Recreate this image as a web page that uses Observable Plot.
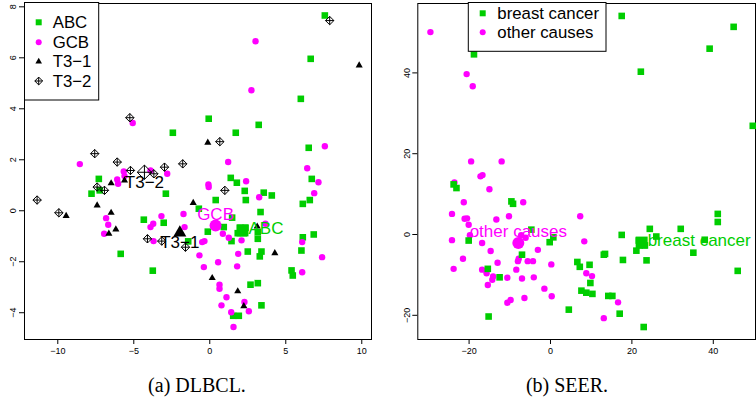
<!DOCTYPE html>
<html><head><meta charset="utf-8">
<script src="https://cdn.jsdelivr.net/npm/d3@7"></script>
<script src="https://cdn.jsdelivr.net/npm/@observablehq/plot@0.6"></script>
<style>
body{margin:0;background:#fff;}
#wrap{position:relative;width:756px;height:402px;overflow:hidden;font-family:"Liberation Sans",Arial,sans-serif;background:#fff;}
.panel{position:absolute;top:0;}
.cap{position:absolute;top:374px;font-family:"Liberation Serif","Times New Roman",serif;font-size:20px;line-height:22px;color:#000;transform:translateX(-50%);white-space:nowrap;}
#leg{position:absolute;left:0;top:0;pointer-events:none;}
</style></head><body><div id="wrap"></div>
<script>
// ---------- DATA ----------
const dlGroups = ["ABC", "GCB", "T3−1", "T3−2"];
const abcPts = [[-2.43,3.06],[-7.30,1.25],[-7.78,0.67],[-7.24,0.80],[-2.89,0.67],[-5.86,-1.69],[-3.75,-2.35],[-4.34,-0.35],[-3.03,-0.47],[-1.42,-1.20],[7.57,7.66],[6.64,5.96],[5.99,4.39],[-0.07,3.61],[3.22,3.37],[1.71,3.06],[6.51,2.47],[1.38,1.29],[1.78,1.10],[6.71,1.25],[2.30,0.78],[3.55,0.71],[4.08,0.60],[0.39,0.42],[2.37,0.42],[6.58,0.42],[6.12,0.27],[3.34,-0.05],[-0.72,0.08],[-0.13,-0.82],[0.92,-0.64],[1.47,-0.27],[1.43,-1.19],[2.02,-0.67],[2.35,-0.67],[1.84,-0.88],[2.24,-0.88],[3.16,-0.84],[3.16,-1.10],[2.50,-1.60],[3.40,-1.60],[3.29,-1.79],[6.12,-1.04],[6.03,-1.56],[6.84,-0.93],[5.38,-2.34],[5.46,-2.54],[2.68,-2.90],[3.16,-2.84],[3.40,-3.71],[1.54,-4.12],[1.91,-4.12]];
const gcbPts = [[-5.07,3.44],[-8.55,1.83],[-3.90,1.58],[-2.80,1.45],[-5.66,1.54],[-5.61,1.36],[-6.09,1.23],[-6.03,1.06],[-6.82,-0.29],[-6.68,-0.55],[-6.95,-0.90],[-3.72,-0.51],[-3.90,-0.64],[-3.18,-0.21],[-3.70,-1.19],[-1.73,-0.13],[-1.66,-0.64],[3.01,6.65],[2.74,4.73],[7.57,2.53],[1.21,1.91],[6.41,1.67],[2.39,1.16],[7.15,1.12],[-0.09,1.03],[-0.07,0.93],[3.25,0.53],[6.87,0.69],[-0.50,-1.23],[-0.35,-1.19],[0.86,-0.90],[1.25,-1.06],[2.09,-1.16],[3.66,-0.51],[6.08,-1.23],[7.39,-1.82],[-0.68,-1.75],[1.87,-1.69],[0.55,-2.02],[-0.39,-2.21],[1.80,-2.18],[6.08,-2.41],[0.64,-2.90],[0.64,-3.06],[1.10,-3.39],[0.77,-3.71],[2.28,-3.58],[2.57,-3.94],[1.41,-3.98],[1.56,-4.56]];
const t31Pts = [[-6.49,1.08],[-5.61,1.19],[-7.41,0.21],[-9.45,-0.20],[-6.49,-0.08],[-6.18,-0.73],[-6.64,-0.90],[-1.09,0.31],[-0.13,2.67],[9.83,5.70],[3.12,-0.62],[4.28,-1.66],[0.16,-2.64],[1.84,-3.16],[2.24,-3.74]];
const t32Pts = [[-5.26,3.65],[-7.57,2.24],[-6.09,1.91],[-1.78,1.84],[-2.98,1.71],[-5.22,1.58],[-3.68,1.45],[-7.41,0.93],[-6.93,0.80],[-11.36,0.42],[-9.93,-0.08],[-4.10,-1.10],[-3.16,-1.19],[-1.60,-1.43],[0.66,2.71],[0.99,0.80],[7.89,7.46]];
const dlCentroids = [[2.15,-0.77],[0.38,-0.58],[-1.97,-0.86],[-4.30,1.51]]; // ABC, GCB, T3-1, T3-2
const dlXTicks = [-10, -5, 0, 5, 10];
const dlYTicks = [-4, -2, 0, 2, 4, 6, 8];

const seerGroups = ["breast cancer", "other causes"];
const breastPts = [[-18.8,44.6],[-23.8,12.4],[-23.1,11.5],[17.5,54.1],[45.0,51.4],[39.1,46.0],[22.2,40.3],[49.7,26.9],[-9.6,8.2],[-9.2,7.6],[-20.1,-1.5],[-4.7,1.2],[-0.2,-1.9],[0.7,-0.7],[-7.0,-5.0],[-15.4,-8.5],[-12.5,-10.6],[-15.2,-20.3],[4.5,-18.6],[6.6,-6.8],[7.2,-8.0],[9.6,-7.5],[9.8,-12.0],[7.6,-13.9],[8.8,-14.4],[10.3,-14.7],[14.2,-15.2],[15.2,-15.2],[17.0,-19.6],[22.9,-22.9],[13.1,-5.0],[13.4,-4.8],[17.5,-0.1],[17.8,-6.3],[21.1,-4.0],[24.4,1.4],[26.0,-0.5],[23.6,-6.4],[32.0,1.4],[37.9,-1.3],[35.1,-4.5],[41.1,5.1],[41.1,3.1],[46.0,-9.0],[21.7,-1.5],[22.9,-1.5],[21.9,-2.7],[23.2,-2.7]];
const otherPts = [[-29.5,50.1],[-20.6,39.7],[-19.1,36.7],[-19.5,18.1],[-12.0,18.1],[-17.2,14.4],[-16.7,14.7],[-15.0,11.2],[-23.6,12.9],[-21.3,8.0],[-6.7,8.0],[-24.2,5.1],[-21.1,3.9],[-20.5,4.0],[-20.1,2.4],[-13.3,3.7],[-10.2,4.5],[-19.8,-0.2],[-24.2,-1.4],[-16.8,-2.1],[-14.7,-4.1],[-21.5,-6.0],[-23.8,-8.5],[-6.1,-0.8],[-7.2,-0.2],[-3.1,-3.8],[-13.0,-7.0],[-7.8,-6.0],[-8.0,-6.6],[-5.6,-6.6],[-4.3,-6.6],[0.2,-7.4],[-8.4,-8.7],[-16.8,-8.7],[-15.7,-9.6],[-14.1,-10.4],[-14.3,-11.2],[-10.6,-10.7],[-7.0,-10.9],[-4.1,-10.6],[-15.4,-12.5],[-1.5,-13.4],[0.3,-15.3],[-9.8,-16.2],[-10.6,-16.9],[-6.4,-15.7],[7.3,4.5],[8.3,-1.7],[8.8,-9.6],[10.2,-10.3],[16.6,-16.8],[13.1,-20.7]];
const seerCentroids = [[22.4,-2.0],[-7.9,-2.1]]; // breast cancer, other causes
const seerXTicks = [-20, 0, 20, 40];
const seerYTicks = [-20, 0, 20, 40];
const captions = ["(a) DLBCL.", "(b) SEER."];

// ---------- STYLE ----------
const GREEN = "#00CD00", MAG = "#FF00FF";
const FONT = "Liberation Sans, Arial, Helvetica, sans-serif";
const sq = {draw(c, s){const r=Math.sqrt(s/Math.PI); c.moveTo(-r,-r); c.lineTo(r,-r); c.lineTo(r,r); c.lineTo(-r,r); c.closePath();}};
const tri = {draw(c, s){const r=Math.sqrt(s/Math.PI), h=r*Math.sqrt(3)/2; c.moveTo(0,-r); c.lineTo(h,r/2); c.lineTo(-h,r/2); c.closePath();}};
const dplus = {draw(c, s){const r=Math.sqrt(s/Math.PI); c.moveTo(0,-r); c.lineTo(r,0); c.lineTo(0,r); c.lineTo(-r,0); c.closePath(); c.moveTo(0,-r); c.lineTo(0,r); c.moveTo(-r,0); c.lineTo(r,0);}};
const circ = {draw(c, s){const r=Math.sqrt(s/Math.PI); c.moveTo(r,0); c.arc(0,0,r,0,2*Math.PI);}};

const wrap = document.getElementById("wrap");
const fmt = d => String(d).replace("-", "\u2212");

function axesMarks(xt, yt) {
  return [
    Plot.frame({stroke: "black"}),
    Plot.axisX({ticks: xt, tickSize: 5, tickPadding: 3, label: null, fontSize: 9, tickFormat: fmt}),
    Plot.axisY({ticks: yt, tickSize: 5, tickFormat: () => "", label: null}),
    Plot.text(yt, {y: d => d, frameAnchor: "left", text: fmt, rotate: -90, dx: -11, textAnchor: "middle", lineAnchor: "middle", fontSize: 9})
  ];
}
const X = d => d[0], Y = d => d[1];

const left = Plot.plot({
  width: 380, height: 370,
  marginLeft: 24, marginRight: 9, marginTop: 3, marginBottom: 31,
  x: {domain: [-12.19, 10.64]}, y: {domain: [-5.05, 8.13]},
  style: {fontFamily: FONT, fontSize: "9px", background: "transparent", overflow: "visible", color: "black"},
  marks: [
    ...axesMarks(dlXTicks, dlYTicks),
    Plot.dot(abcPts, {x: X, y: Y, symbol: sq, r: 3.3, fill: GREEN, stroke: "none"}),
    Plot.dot(gcbPts, {x: X, y: Y, symbol: circ, r: 3.2, fill: MAG, stroke: "none"}),
    Plot.dot(t31Pts, {x: X, y: Y, symbol: tri, r: 4.1, fill: "black", stroke: "none"}),
    Plot.dot(t32Pts, {x: X, y: Y, symbol: dplus, r: 4.2, fill: "none", stroke: "black", strokeWidth: 1}),
    Plot.dot([dlCentroids[0]], {x: X, y: Y, symbol: sq, r: 6, fill: GREEN, stroke: "none"}),
    Plot.dot([dlCentroids[1]], {x: X, y: Y, symbol: circ, r: 6, fill: MAG, stroke: "none"}),
    Plot.dot([dlCentroids[2]], {x: X, y: Y, symbol: tri, r: 7.5, fill: "black", stroke: "none"}),
    Plot.dot([dlCentroids[3]], {x: X, y: Y, symbol: dplus, r: 7.2, fill: "none", stroke: "black", strokeWidth: 1}),
    Plot.text([dlCentroids[0]], {x: X, y: Y, text: [dlGroups[0]], fill: GREEN, fontSize: 17, textAnchor: "start", lineAnchor: "middle", dx: 6, dy: -2}),
    Plot.text([dlCentroids[1]], {x: X, y: Y, text: [dlGroups[1]], fill: MAG, fontSize: 17, textAnchor: "middle", lineAnchor: "middle", dy: -11}),
    Plot.text([dlCentroids[2]], {x: X, y: Y, text: [dlGroups[2]], fill: "black", fontSize: 17, textAnchor: "middle", lineAnchor: "middle", dy: 10}),
    Plot.text([dlCentroids[3]], {x: X, y: Y, text: [dlGroups[3]], fill: "black", fontSize: 17, textAnchor: "middle", lineAnchor: "middle", dy: 10})
  ]
});
left.classList.add("panel"); left.style.left = "0px";
wrap.appendChild(left);

const right = Plot.plot({
  width: 376, height: 370,
  marginLeft: 37.3, marginRight: 1, marginTop: 3, marginBottom: 31,
  x: {domain: [-32.6, 50.37]}, y: {domain: [-25.99, 57.18]},
  style: {fontFamily: FONT, fontSize: "9px", background: "transparent", overflow: "visible", color: "black"},
  marks: [
    ...axesMarks(seerXTicks, seerYTicks),
    Plot.dot(otherPts, {x: X, y: Y, symbol: circ, r: 3.2, fill: MAG, stroke: "none"}),
    Plot.dot(breastPts, {x: X, y: Y, symbol: sq, r: 3.3, fill: GREEN, stroke: "none"}),
    Plot.dot([seerCentroids[0]], {x: X, y: Y, symbol: sq, r: 6, fill: GREEN, stroke: "none"}),
    Plot.dot([seerCentroids[1]], {x: X, y: Y, symbol: circ, r: 6, fill: MAG, stroke: "none"}),
    Plot.text([seerCentroids[0]], {x: X, y: Y, text: [seerGroups[0]], fill: GREEN, fontSize: 17, textAnchor: "start", lineAnchor: "middle", dx: 6, dy: -2}),
    Plot.text([seerCentroids[1]], {x: X, y: Y, text: [seerGroups[1]], fill: MAG, fontSize: 17, textAnchor: "middle", lineAnchor: "middle", dy: -11})
  ]
});
right.classList.add("panel"); right.style.left = "380px";
wrap.appendChild(right);

// ---------- LEGENDS ----------
const svg = d3.select(wrap).append("svg").attr("id", "leg").attr("width", 756).attr("height", 402);
function legend(x, y, w, h, items, sx, tx, ys) {
  const g = svg.append("g");
  g.append("rect").attr("x", x).attr("y", y).attr("width", w).attr("height", h).attr("fill", "white").attr("stroke", "black").attr("stroke-width", 1);
  items.forEach((it, i) => {
    g.append("path").attr("transform", `translate(${sx},${ys[i]})`)
      .attr("d", d3.symbol(it.sym, Math.PI * it.r * it.r)())
      .attr("fill", it.fill).attr("stroke", it.stroke).attr("stroke-width", 1);
    g.append("text").attr("x", tx).attr("y", ys[i]).attr("dy", "0.35em")
      .attr("font-family", FONT).attr("font-size", 16.8).attr("fill", "black").text(it.label);
  });
}
legend(24.5, 2.5, 74.2, 97.5, [
  {label: dlGroups[0], sym: sq, r: 3, fill: GREEN, stroke: "none"},
  {label: dlGroups[1], sym: circ, r: 3, fill: MAG, stroke: "none"},
  {label: dlGroups[2], sym: tri, r: 3.8, fill: "black", stroke: "none"},
  {label: dlGroups[3], sym: dplus, r: 3.9, fill: "none", stroke: "black"}
], 38.7, 52.7, [22.3, 42.3, 61.5, 81]);
legend(468.3, 2.5, 137.7, 48.8, [
  {label: seerGroups[0], sym: sq, r: 3, fill: GREEN, stroke: "none"},
  {label: seerGroups[1], sym: circ, r: 3, fill: MAG, stroke: "none"}
], 482.7, 497.3, [13.3, 32.3]);

// ---------- CAPTIONS ----------
[[captions[0], 197], [captions[1], 567]].forEach(([t, cx]) => {
  const d = document.createElement("div");
  d.className = "cap"; d.style.left = cx + "px"; d.textContent = t;
  wrap.appendChild(d);
});
</script>
</body></html>
